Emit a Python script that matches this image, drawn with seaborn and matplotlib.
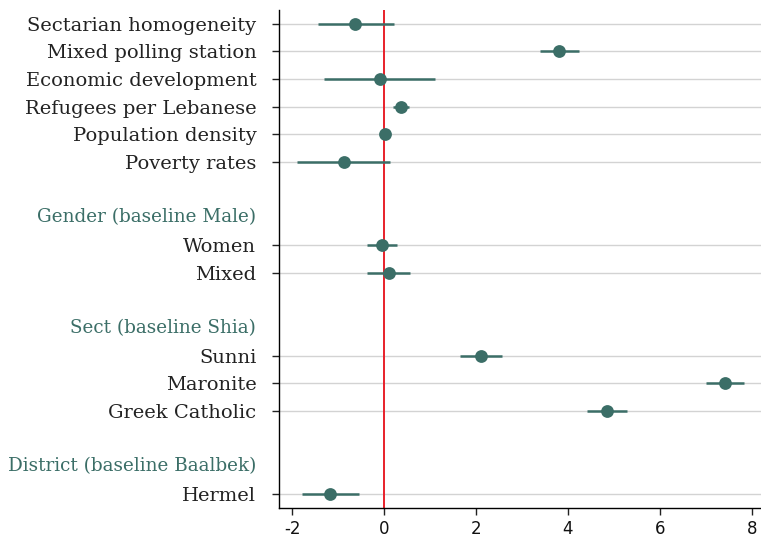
import numpy as np
import pandas as pd
import matplotlib
matplotlib.use("Agg")
import matplotlib.pyplot as plt
import seaborn as sns

# Coefficients and 95% CIs
variables = ["Sectarian homogeneity", "Mixed polling station", "Economic development",
             "Refugees per Lebanese", "Population density", "Poverty rates",
             "Women", "Mixed", "Sunni", "Maronite", "Greek Catholic", "Hermel"]
coef = [-0.63, 3.80, -0.09, 0.37, 0.01, -0.87, -0.05, 0.11, 2.10, 7.42, 4.84, -1.17]
ci_low = [-1.43, 3.39, -1.30, 0.20, -0.04, -1.89, -0.38, -0.38, 1.65, 7.01, 4.41, -1.78]
ci_high = [0.22, 4.24, 1.11, 0.54, 0.06, 0.13, 0.28, 0.57, 2.57, 7.83, 5.28, -0.55]

# Group headers and the index of the first variable in each group
headers = ["Gender (baseline Male)", "Sect (baseline Shia)", "District (baseline Baalbek)"]
header_before = [6, 8, 11]

TEAL = "#3b6e67"
RED = "#e8202a"

# row layout: a blank row and a header row before each group
rows = []
hdr = dict(zip(header_before, headers))
for i, v in enumerate(variables):
    if i in hdr:
        rows.append(("", "blank"))
        rows.append((hdr[i], "header"))
    rows.append((v, "var"))
ypos = [k for k, r in enumerate(rows) if r[1] == "var"]

df = pd.DataFrame({"variable": variables, "coef": coef, "lo": ci_low, "hi": ci_high, "y": ypos})

sns.set_style("white")
plt.rcParams["axes.unicode_minus"] = False
fig, ax = plt.subplots(figsize=(7.61, 5.41), dpi=100)
fig.subplots_adjust(left=0.367, right=1.0, top=0.982, bottom=0.061)

for y in df["y"]:
    ax.axhline(y, color="#d3d3d3", lw=1.0, zorder=0)
ax.axvline(0, color=RED, lw=1.4, zorder=1)

ax.hlines(df["y"], df["lo"], df["hi"], color=TEAL, lw=1.8, zorder=2)
sns.scatterplot(data=df, x="coef", y="y", ax=ax, color=TEAL, s=85,
                edgecolor=TEAL, linewidth=0, zorder=3)

ax.set_ylim(len(rows) - 0.5, -0.5)
ax.set_xlim(-2.28, 8.2)
ax.set_xticks([-2, 0, 2, 4, 6, 8])
ax.set_yticks(df["y"])
ax.set_yticklabels(df["variable"], fontfamily="DejaVu Serif", fontsize=14, color="#222222")
for k, (txt, kind) in enumerate(rows):
    if kind == "header":
        ax.text(-0.048, k, txt, transform=ax.get_yaxis_transform(), ha="right", va="center",
                fontfamily="DejaVu Serif", fontsize=13.2, color=TEAL)
ax.tick_params(axis="y", length=5, width=1, color="#222222", pad=11.5, left=True)
ax.tick_params(axis="x", length=5, width=1, color="#222222", labelsize=12,
               labelcolor="#111111", bottom=True)
ax.set_xlabel("")
ax.set_ylabel("")
for s in ["top", "right"]:
    ax.spines[s].set_visible(False)
for s in ["left", "bottom"]:
    ax.spines[s].set_color("black")
    ax.spines[s].set_linewidth(1.0)

fig.savefig("out.png", dpi=100)
